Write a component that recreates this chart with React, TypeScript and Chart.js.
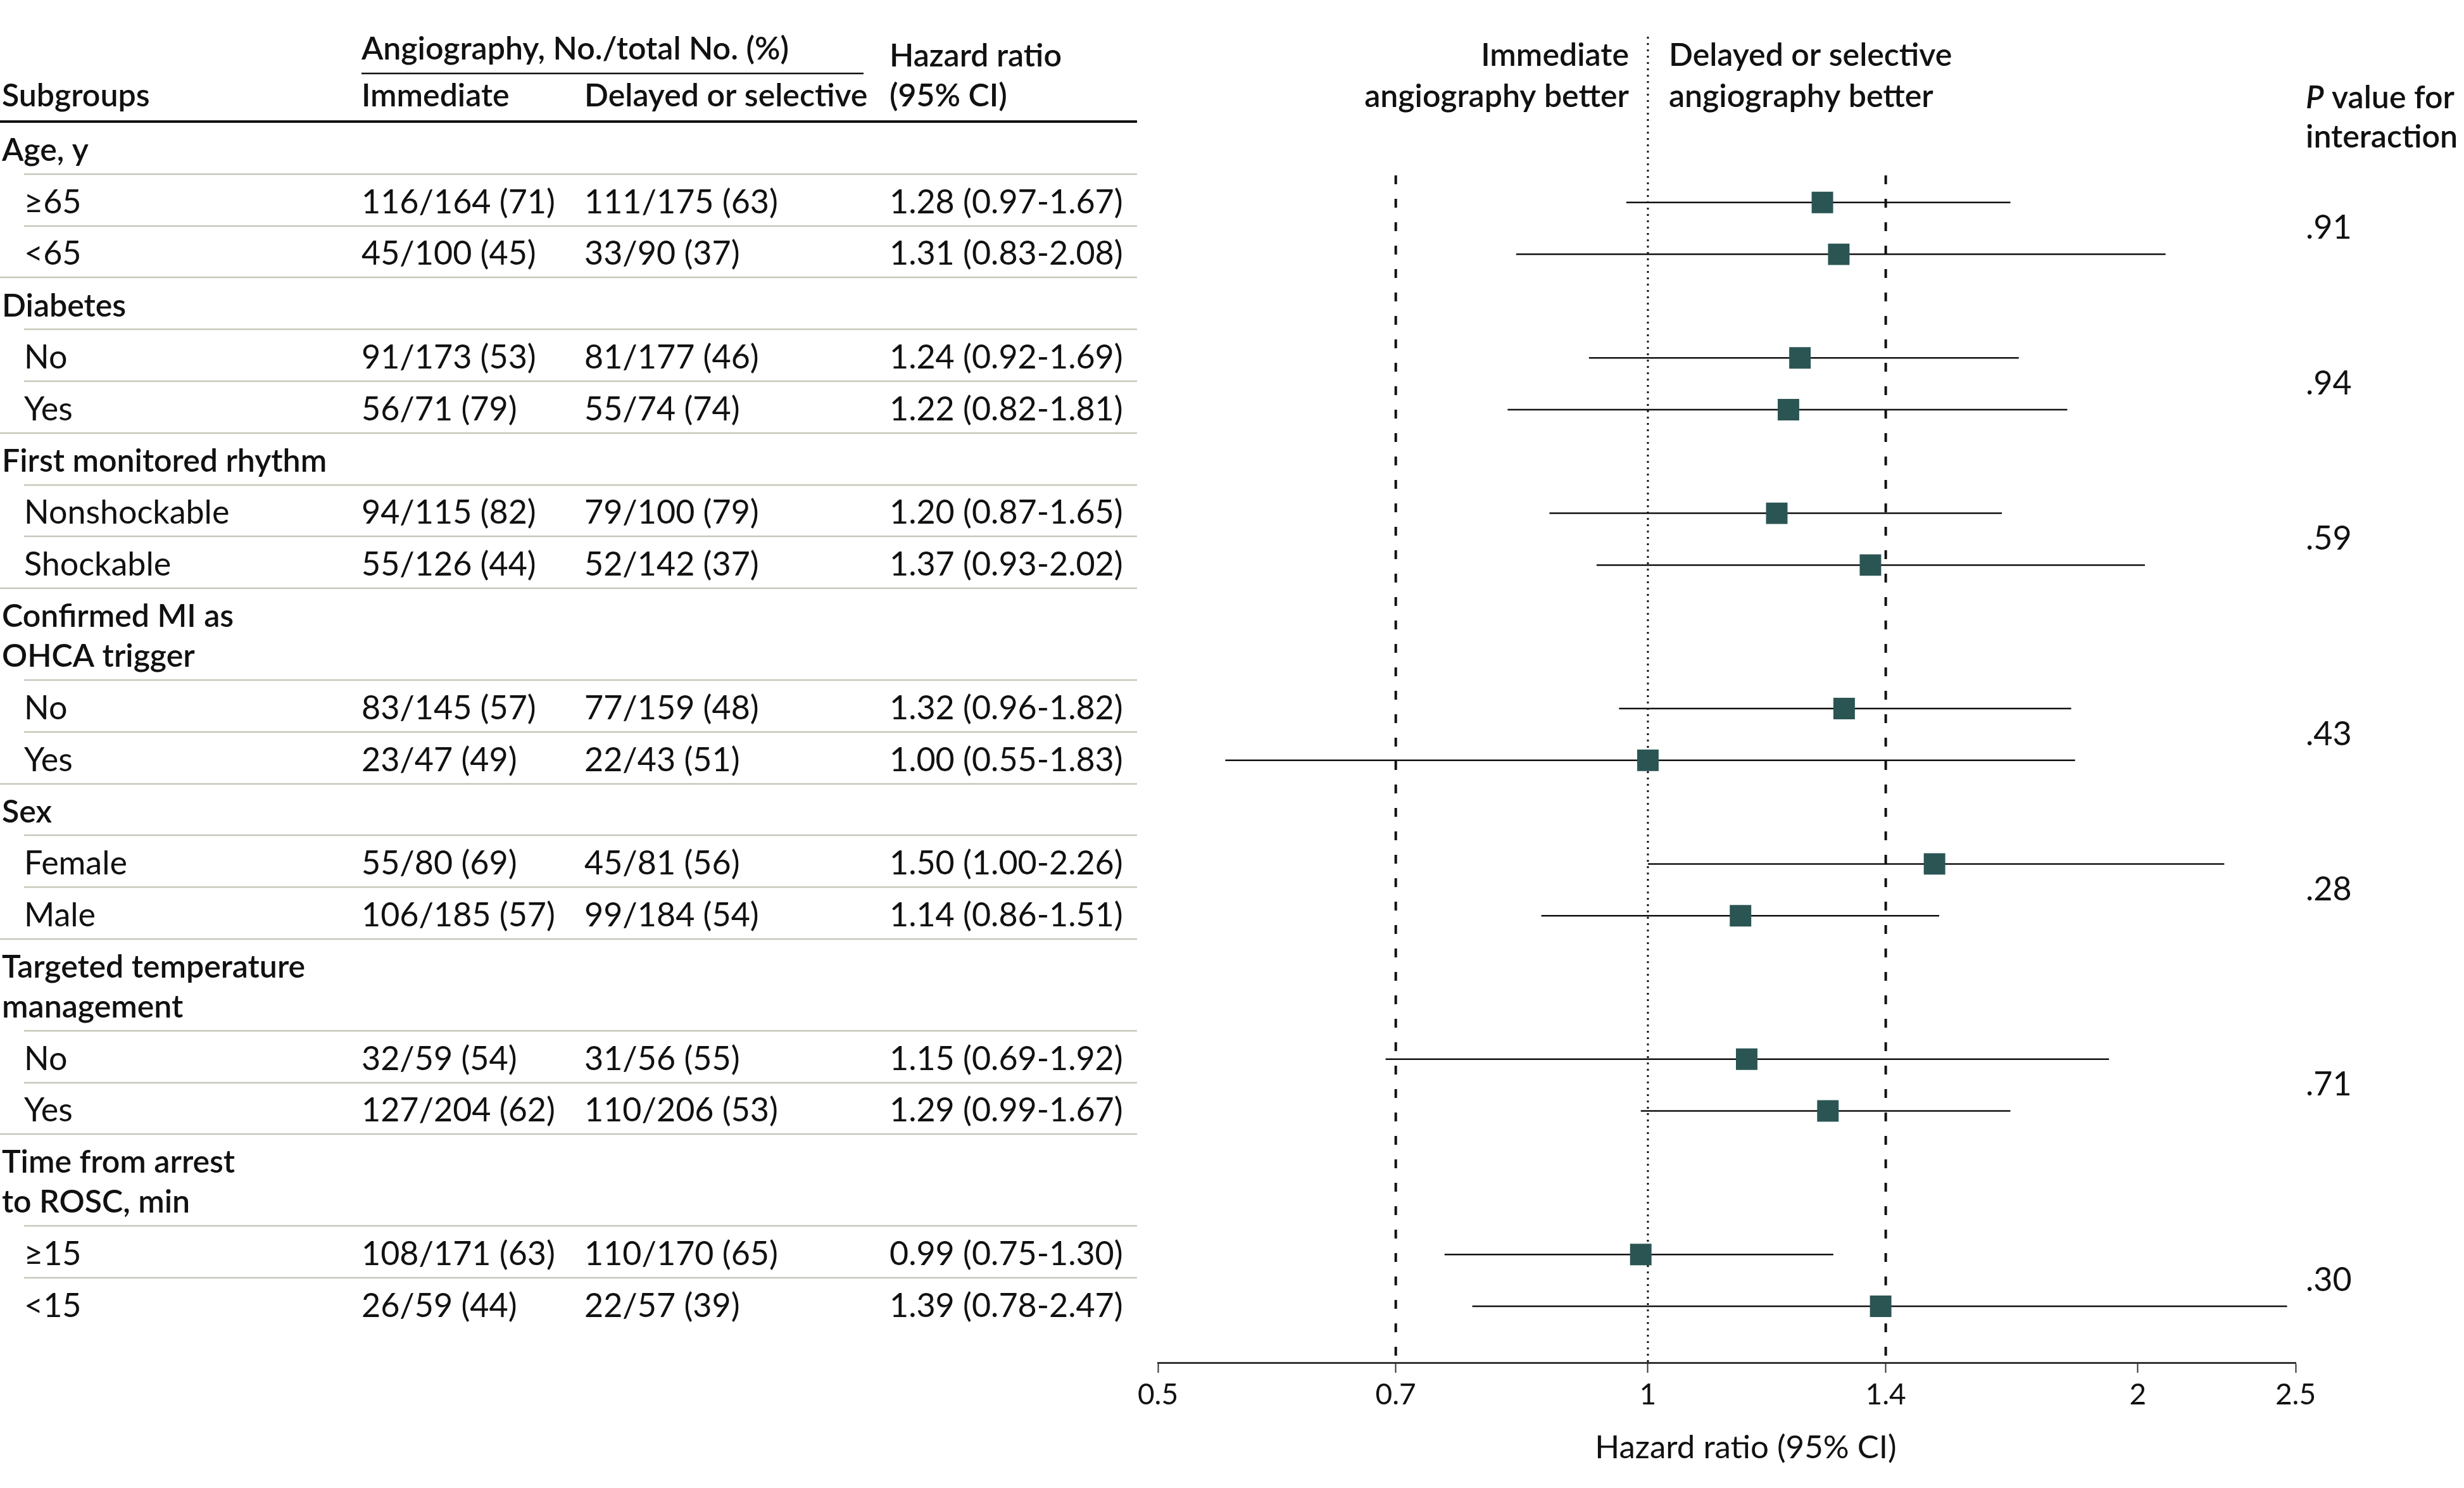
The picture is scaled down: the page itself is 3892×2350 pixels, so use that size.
import React, { useEffect, useRef } from "react";
import { Chart, registerables } from "chart.js";

Chart.register(...registerables);

// ---------------- DATA ----------------
const groupLabels = [
  "Age, y",
  "Diabetes",
  "First monitored rhythm",
  "Confirmed MI as|OHCA trigger",
  "Sex",
  "Targeted temperature|management",
  "Time from arrest|to ROSC, min",
];
const subgroupLabels = [
  ["≥65", "<65"],
  ["No", "Yes"],
  ["Nonshockable", "Shockable"],
  ["No", "Yes"],
  ["Female", "Male"],
  ["No", "Yes"],
  ["≥15", "<15"],
];
const immediateCounts = [
  "116/164 (71)", "45/100 (45)",
  "91/173 (53)", "56/71 (79)",
  "94/115 (82)", "55/126 (44)",
  "83/145 (57)", "23/47 (49)",
  "55/80 (69)", "106/185 (57)",
  "32/59 (54)", "127/204 (62)",
  "108/171 (63)", "26/59 (44)",
];
const delayedCounts = [
  "111/175 (63)", "33/90 (37)",
  "81/177 (46)", "55/74 (74)",
  "79/100 (79)", "52/142 (37)",
  "77/159 (48)", "22/43 (51)",
  "45/81 (56)", "99/184 (54)",
  "31/56 (55)", "110/206 (53)",
  "110/170 (65)", "22/57 (39)",
];
const hazardRatio = [1.28, 1.31, 1.24, 1.22, 1.2, 1.37, 1.32, 1.0, 1.5, 1.14, 1.15, 1.29, 0.99, 1.39];
const ciLow = [0.97, 0.83, 0.92, 0.82, 0.87, 0.93, 0.96, 0.55, 1.0, 0.86, 0.69, 0.99, 0.75, 0.78];
const ciHigh = [1.67, 2.08, 1.69, 1.81, 1.65, 2.02, 1.82, 1.83, 2.26, 1.51, 1.92, 1.67, 1.3, 2.47];
const pInteraction = [".91", ".94", ".59", ".43", ".28", ".71", ".30"];
const xTicks = [0.5, 0.7, 1, 1.4, 2, 2.5];
const xTickLabels = ["0.5", "0.7", "1", "1.4", "2", "2.5"];
const referenceDashed = [0.7, 1.4];
const referenceNull = 1;

// ---------------- LAYOUT ----------------
const W = 3892;
const H = 2350;
const ROW_PX = 81.8;
const FIRST_ROW_PX = 238;
const PLOT_BOTTOM = 2152;
const PLOT_LEFT = 1829;
const PLOT_RIGHT = 3626;
const HEADING_LINE_GAP = 0.77;
const SEP_OFFSET = 0.55;

const Y_MIN = -FIRST_ROW_PX / ROW_PX;
const Y_MAX = (PLOT_BOTTOM - FIRST_ROW_PX) / ROW_PX;
const pxToRow = (px: number) => (px - FIRST_ROW_PX) / ROW_PX;

type GroupRow = { u: number; lines: string[] };
const groupRows: GroupRow[] = [];
const itemRows: number[] = [];
const itemLabels: string[] = [];
(() => {
  let u = 0;
  groupLabels.forEach((g, gi) => {
    const lines = g.split("|");
    groupRows.push({ u, lines });
    u += 1 + (lines.length - 1) * HEADING_LINE_GAP;
    subgroupLabels[gi].forEach((s) => {
      itemRows.push(u);
      itemLabels.push(s);
      u += 1;
    });
  });
})();

const FONT = "Lato, 'Open Sans', 'Liberation Sans', sans-serif";
const TEXT = "#111111";
const MARKER = "#2a5553";
const SEP = "#c5c8bb";

const COL_SUB = 3;
const COL_ITEM = 38;
const COL_IMM = 571;
const COL_DEL = 923;
const COL_HR = 1405;
const TABLE_RIGHT = 1796;

const fmt = (v: number) => v.toFixed(2);

const tablePlugin = {
  id: "forestTable",
  afterDraw(chart: any) {
    const ctx: CanvasRenderingContext2D = chart.ctx;
    const ys = chart.scales.y;
    const xs = chart.scales.x;
    const py = (u: number) => ys.getPixelForValue(u);
    ctx.save();
    ctx.fillStyle = TEXT;
    ctx.textBaseline = "middle";
    ctx.textAlign = "left";
    const semi = `600 50px ${FONT}`;
    const reg = `400 52px ${FONT}`;

    // header
    ctx.font = semi;
    ctx.fillText("Angiography, No./total No. (%)", COL_IMM, 78);
    ctx.fillText("Hazard ratio", COL_HR, 89);
    ctx.fillText("Subgroups", COL_SUB, 152);
    ctx.fillText("Immediate", COL_IMM, 152);
    ctx.fillText("Delayed or selective", COL_DEL, 152);
    ctx.fillText("(95% CI)", COL_HR, 152);

    ctx.strokeStyle = TEXT;
    ctx.lineWidth = 2.5;
    ctx.beginPath();
    ctx.moveTo(COL_IMM, 116);
    ctx.lineTo(1364, 116);
    ctx.stroke();
    ctx.lineWidth = 4;
    ctx.beginPath();
    ctx.moveTo(0, 192);
    ctx.lineTo(TABLE_RIGHT, 192);
    ctx.stroke();

    // separators
    ctx.strokeStyle = SEP;
    ctx.lineWidth = 2.5;
    groupRows.forEach((g, i) => {
      if (i === 0) return;
      const y = Math.round(py(g.u - SEP_OFFSET));
      ctx.beginPath();
      ctx.moveTo(0, y);
      ctx.lineTo(TABLE_RIGHT, y);
      ctx.stroke();
    });
    itemRows.forEach((u) => {
      const y = Math.round(py(u - SEP_OFFSET));
      ctx.beginPath();
      ctx.moveTo(COL_ITEM, y);
      ctx.lineTo(TABLE_RIGHT, y);
      ctx.stroke();
    });

    // group headings
    ctx.fillStyle = TEXT;
    ctx.font = semi;
    groupRows.forEach((g) => {
      g.lines.forEach((line, li) => {
        ctx.fillText(line, COL_SUB, py(g.u + li * HEADING_LINE_GAP));
      });
    });

    // item rows
    ctx.font = reg;
    itemRows.forEach((u, i) => {
      const y = py(u);
      ctx.fillText(itemLabels[i], COL_ITEM, y);
      ctx.fillText(immediateCounts[i], COL_IMM, y);
      ctx.fillText(delayedCounts[i], COL_DEL, y);
      ctx.fillText(`${fmt(hazardRatio[i])} (${fmt(ciLow[i])}-${fmt(ciHigh[i])})`, COL_HR, y);
    });

    // right-side headers
    const xNull = xs.getPixelForValue(referenceNull);
    ctx.font = semi;
    ctx.textAlign = "right";
    ctx.fillText("Immediate", xNull - 30, 88);
    ctx.fillText("angiography better", xNull - 30, 153);
    ctx.textAlign = "left";
    ctx.fillText("Delayed or selective", xNull + 33, 88);
    ctx.fillText("angiography better", xNull + 33, 153);

    const pX = 3642;
    ctx.font = `italic 600 50px ${FONT}`;
    ctx.fillText("P", pX, 155);
    const pw = ctx.measureText("P").width;
    ctx.font = semi;
    ctx.fillText(" value for", pX + pw, 155);
    ctx.fillText("interaction", pX, 217);

    ctx.font = reg;
    pInteraction.forEach((p, gi) => {
      const a = itemRows[gi * 2];
      const b = itemRows[gi * 2 + 1];
      ctx.fillText(p, pX, py((a + b) / 2));
    });

    // axis title
    ctx.textAlign = "center";
    ctx.font = `400 51px ${FONT}`;
    ctx.fillText("Hazard ratio (95% CI)", (xs.left + xs.right) / 2 + 30, 2287);
    ctx.restore();
  },
};

export default function App() {
  const ref = useRef<HTMLCanvasElement | null>(null);
  useEffect(() => {
    if (!ref.current) return;
    const markerData = hazardRatio.map((v, i) => ({ x: v, y: itemRows[i] }));
    const datasets: any[] = [];
    datasets.push({
      label: "HR",
      data: markerData,
      pointStyle: "rect",
      pointRadius: 24,
      pointHoverRadius: 24,
      backgroundColor: MARKER,
      borderColor: MARKER,
      borderWidth: 0,
      showLine: false,
      order: 0,
    });
    hazardRatio.forEach((_, i) => {
      datasets.push({
        label: "CI" + i,
        data: [
          { x: ciLow[i], y: itemRows[i] },
          { x: ciHigh[i], y: itemRows[i] },
        ],
        showLine: true,
        borderColor: "#111111",
        borderWidth: 2.5,
        pointRadius: 0,
        order: 1,
      });
    });
    referenceDashed.forEach((v) => {
      datasets.push({
        label: "ref" + v,
        data: [
          { x: v, y: pxToRow(277) },
          { x: v, y: Y_MAX },
        ],
        showLine: true,
        borderColor: "#111111",
        borderWidth: 4,
        borderDash: [14, 23],
        borderCapStyle: "butt",
        pointRadius: 0,
        order: 2,
      });
    });
    datasets.push({
      label: "null",
      data: [
        { x: referenceNull, y: pxToRow(58) },
        { x: referenceNull, y: Y_MAX },
      ],
      showLine: true,
      borderColor: "#111111",
      borderWidth: 3,
      borderDash: [3, 7],
      pointRadius: 0,
      order: 2,
    });

    const chart: any = new Chart(ref.current, {
      type: "scatter",
      data: { datasets },
      options: {
        animation: false,
        responsive: false,
        maintainAspectRatio: false,
        devicePixelRatio: 1,
        events: [],
        layout: { padding: { left: PLOT_LEFT, right: W - PLOT_RIGHT, top: 0, bottom: 0 } },
        plugins: { legend: { display: false }, tooltip: { enabled: false }, title: { display: false } },
        scales: {
          x: {
            type: "logarithmic",
            min: 0.5,
            max: 2.5,
            position: "bottom",
            afterBuildTicks: (s: any) => {
              s.ticks = xTicks.map((v) => ({ value: v }));
            },
            afterFit: (s: any) => {
              s.height = H - PLOT_BOTTOM;
            },
            ticks: {
              autoSkip: false,
              maxRotation: 0,
              padding: 8,
              color: TEXT,
              font: { family: FONT, size: 46 },
              callback: (v: any) => {
                const i = xTicks.indexOf(Number(v));
                return i >= 0 ? xTickLabels[i] : "";
              },
            },
            grid: {
              drawOnChartArea: false,
              drawTicks: true,
              tickLength: 16,
              tickWidth: 2,
              color: "#333333",
            },
            border: { display: true, color: "#333333", width: 3 },
          },
          y: {
            type: "linear",
            reverse: true,
            min: Y_MIN,
            max: Y_MAX,
            display: false,
          },
        },
      },
      plugins: [tablePlugin],
    });
    // keep the row grid anchored to page pixels whatever top inset the layout produced
    const area = chart.chartArea;
    if (area) {
      const rowsPerPx = (Y_MAX - Y_MIN) / (area.bottom - area.top);
      const newMin = (area.top - FIRST_ROW_PX) / ROW_PX;
      const newMax = (area.bottom - FIRST_ROW_PX) / ROW_PX;
      if (Math.abs(newMin - Y_MIN) > 1e-3 || Math.abs(newMax - Y_MAX) > 1e-3 || rowsPerPx <= 0) {
        chart.options.scales.y.min = newMin;
        chart.options.scales.y.max = newMax;
        chart.update();
      }
    }
    return () => chart.destroy();
  }, []);

  return (
    <div style={{ position: "fixed", left: 0, top: 0, width: W, height: H, background: "#ffffff" }}>
      <canvas ref={ref} width={W} height={H} style={{ width: W, height: H, display: "block" }} />
    </div>
  );
}
